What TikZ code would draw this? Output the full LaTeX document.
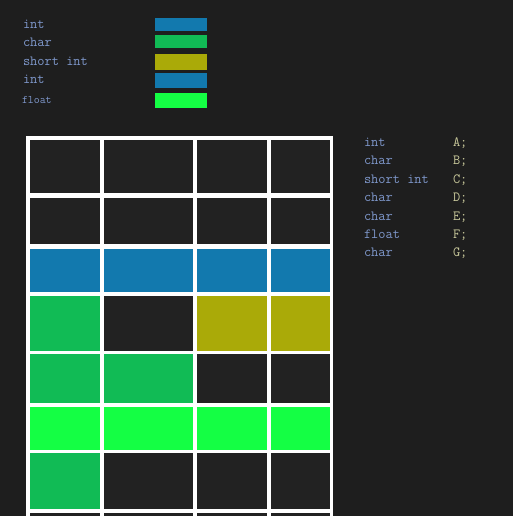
\documentclass[tikz,border=0pt]{standalone}
\usetikzlibrary{positioning}
\definecolor{bg}{HTML}{1E1E1E}
\definecolor{celldark}{HTML}{222222}
\definecolor{cblue}{HTML}{1279AE}
\definecolor{cgreen}{HTML}{11BB55}
\definecolor{colive}{HTML}{AAAA08}
\definecolor{cbright}{HTML}{14FF44}
\definecolor{typetxt}{HTML}{7F98CC}
\definecolor{vartxt}{HTML}{CACA9C}
\begin{document}
\begin{tikzpicture}[x=1bp,y=-1bp,
  txt/.style={anchor=base west,inner sep=0pt,outer sep=0pt,text=typetxt,font=\ttfamily\fontsize{14bp}{16bp}\selectfont},
  vtxt/.style={txt,text=vartxt},
  swatch/.style={anchor=north west,inner sep=0pt,outer sep=0pt,minimum width=52bp},
  cell/.style={anchor=north west,inner sep=0pt,outer sep=0pt}]
\useasboundingbox (0,0) rectangle (513,516);
\fill[bg] (0,0) rectangle (513,516);
% legend
\node[txt] (l1) at (23,29) {int};
\node[txt] (l2) at (23,47) {char};
\node[txt] (l3) at (23,66) {short int};
\node[txt] (l4) at (23,84) {int};
\node[txt,font=\ttfamily\fontsize{11.5bp}{13bp}\selectfont] (l5) at (22,104) {float};
\node[swatch,fill=cblue,minimum height=13bp] (s1) at (155,18) {};
\node[swatch,fill=cgreen,minimum height=13bp] (s2) at (155,35.5) {};
\node[swatch,fill=colive,minimum height=16bp] (s3) at (155,54.5) {};
\node[swatch,fill=cblue,minimum height=14.5bp] (s4) at (155,73.3) {};
\node[swatch,fill=cbright,minimum height=15bp] (s5) at (155,93.3) {};
% declarations
\node[txt] (t1) at (364,147) {int};
\node[txt] (t2) at (364,165) {char};
\node[txt] (t3) at (364,183.3) {short int};
\node[txt] (t4) at (364,201.5) {char};
\node[txt] (t5) at (364,220) {char};
\node[txt] (t6) at (364,238.3) {float};
\node[txt] (t7) at (364,256) {char};
\node[vtxt] (v1) at (453,147) {A;};
\node[vtxt] (v2) at (453,165) {B;};
\node[vtxt] (v3) at (453,183.3) {C;};
\node[vtxt] (v4) at (453,201.5) {D;};
\node[vtxt] (v5) at (453,220) {E;};
\node[vtxt] (v6) at (453,238.3) {F;};
\node[vtxt] (v7) at (453,256) {G;};
% grid frame
\fill[white] (26,136) rectangle (333,530);
% cells: columns x/width, rows y/height
\foreach \r/\y/\h/\ca/\cb/\cc/\cd in {
  1/140/53/celldark/celldark/celldark/celldark,
  2/198/46/celldark/celldark/celldark/celldark,
  3/249/43/cblue/cblue/cblue/cblue,
  4/296/55/cgreen/celldark/colive/colive,
  5/354/49/cgreen/cgreen/celldark/celldark,
  6/407/43/cbright/cbright/cbright/cbright,
  7/453/56/cgreen/celldark/celldark/celldark,
  8/513/20/celldark/celldark/celldark/celldark}{
  \node[cell,fill=\ca,minimum width=70bp,minimum height=\h bp] (c\r-1) at (30,\y) {};
  \node[cell,fill=\cb,minimum width=89bp,minimum height=\h bp] (c\r-2) at (104,\y) {};
  \node[cell,fill=\cc,minimum width=70bp,minimum height=\h bp] (c\r-3) at (197,\y) {};
  \node[cell,fill=\cd,minimum width=59bp,minimum height=\h bp] (c\r-4) at (271,\y) {};
}
\end{tikzpicture}
\end{document}
